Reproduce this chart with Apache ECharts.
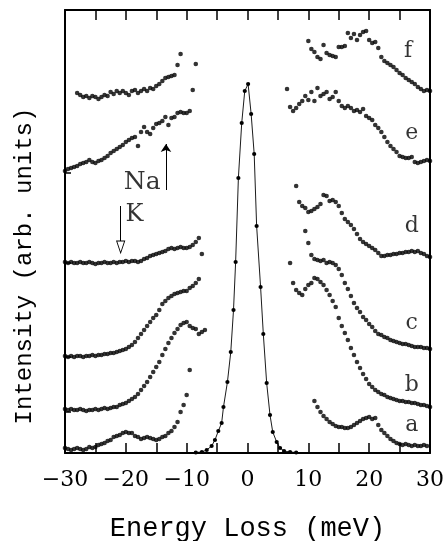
<!DOCTYPE html>
<html>
<head>
<meta charset="utf-8">
<script src="https://cdn.jsdelivr.net/npm/echarts@6/dist/echarts.min.js"></script>
<style>html,body{margin:0;padding:0;background:#fff}#c{width:445px;height:541px}</style>
</head>
<body>
<div id="c"></div>
<script>
// ---- data (energy grid step in meV, intensities in arbitrary units) ----
const STEP = 0.5;
const xTickValues = [-30, -20, -10, 0, 10, 20, 30];
const xTickLabels = ['\u221230', '\u221220', '\u221210', '0', '10', '20', '30'];

const fLeftStart = -28;
const fLeft = [360,358,356,357,355,357,356,354,356,358,357,361,359,362,360,362,360,358,362,363,
  360,362,364,362,365,364,367,369,372,375,376,377,378,388,399,null,null,null,null,389];
const fRightStart = 10;
const fRight = [412,404,401,396,394,408,400,398,397,396,406,406,407,420,415,419,413,418,421,422,
  413,410,411,405,396,392,390,388,386,383,380,378,375,373,371,369,366,364,362,363,362];

const eLeftStart = -30;
const eLeft = [282,284,285,286,287,289,290,291,293,291,290,292,293,295,297,300,302,304,306,308,
  311,313,315,316,307,321,326,321,319,325,329,330,332,336,328,335,336,340,341,340,340,342,363];
const eRightStart = 6.5;
const eRight = [364,346,342,345,349,352,357,353,361,352,365,357,359,361,354,356,361,352,347,345,
  347,345,342,343,341,344,337,335,333,328,325,321,316,311,307,304,301,297,296,295,
  295,296,291,290,291,292,293,292];

const dLeftStart = -30;
const dLeft = [191,190,191,190,190,191,190,190,191,190,189,190,190,191,190,190,191,190,191,191,
  192,191,192,192,191,192,194,195,197,198,199,200,201,202,204,205,204,205,206,205,
  205,206,208,211,215,199];
const dRightStart = 8;
const dRight = [267,251,247,245,241,242,244,246,249,258,257,252,253,251,247,240,234,231,228,224,
  219,214,211,209,207,205,203,200,197,197,198,198,199,199,200,200,201,201,202,201,
  202,200,199,197,196];

const cLeftStart = -30;
const cLeft = [97,96,97,96,97,97,96,97,97,98,97,98,98,99,99,100,100,101,102,103,
  104,106,108,111,115,119,123,127,131,135,138,143,149,152,155,157,159,160,161,162,
  162,165,167,170,174];
const cRightStart = 7;
const cRight = [190,null,null,null,null,222,210,198,194,193,192,193,190,191,190,188,184,178,170,164,
  157,150,145,141,136,133,129,126,122,119,118,116,115,113,112,111,110,109,109,108,
  107,106,106,106,105,105,104];

const bLeftStart = -30;
const bLeft = [44,43,44,43,43,44,43,42,43,43,44,43,44,45,44,45,46,46,48,49,
  50,52,54,56,59,63,67,71,76,81,86,91,98,104,110,115,120,124,128,130,
  131,127,125,124,119,121,123];
const bRightStart = 7.5;
const bRight = [170,163,160,158,164,168,170,175,174,171,168,163,158,152,146,135,127,120,113,105,
  98,91,85,79,74,69,66,63,61,59,58,56,55,54,53,52,52,51,51,50,50,49,48,48,47,46];

const aLeftStart = -30;
const aLeft = [5,4,3,4,5,4,3,4,6,5,6,8,9,10,12,13,16,17,18,20,
  21,20,20,17,16,14,15,16,15,14,13,14,16,17,20,22,26,31,41,48,58,83];
const aRightStart = 11;
const aRight = [52,46,41,37,34,31,29,27,26,26,25,25,26,28,30,32,34,35,36,34,
  35,28,23,20,17,14,12,10,9,8,9,8,7,8,7,7,8,7];

const peakEnergy = [-8.5,-7.5,-6.7,-5.9,-5.35,-4.8,-4.25,-3.95,-3.3,-2.75,-2.3,-1.95,-1.5,-0.95,-0.45,0.1,
  0.6,1.1,1.5,2.15,2.6,3.15,3.7,4.15,4.8,5.35,6.0,7.0,8.0];
const peakIntensity = [0.5,1,3,7,13,22,30,46,71,101,143,191,275,330,362,369,
  339,299,227,166,119,70,38,21,11,5,2,1,0.5];

const traceLetters = ['a','b','c','d','e','f'];
const leftTickLevels = [280, 190, 96, 41];

// ---- build ----
function onGrid(start, values) {
  const out = [];
  values.forEach((v, i) => { if (v !== null) out.push([start + i * STEP, v]); });
  return out;
}
const INK = '#000';
const dotSeries = [
  [fLeftStart, fLeft], [fRightStart, fRight],
  [eLeftStart, eLeft], [eRightStart, eRight],
  [dLeftStart, dLeft], [dRightStart, dRight],
  [cLeftStart, cLeft], [cRightStart, cRight],
  [bLeftStart, bLeft], [bRightStart, bRight],
  [aLeftStart, aLeft], [aRightStart, aRight]
].map(([s, v]) => ({
  type: 'scatter', data: onGrid(s, v), symbol: 'circle', symbolSize: 4.6,
  itemStyle: { color: INK }, silent: true, animation: false
}));

const serif = '"DejaVu Serif", serif';
const mono = '"Liberation Mono", monospace';

const letterPos = { a: [27, 28], b: [27, 68], c: [27, 130], d: [27, 227], e: [27, 320], f: [26.4, 402] };

const annotations = {
  type: 'scatter', symbolSize: 0, silent: true, animation: false,
  data: traceLetters.map(t => ({ value: letterPos[t], label: { show: true, formatter: t } }))
    .concat([
      { value: [-17.3, 271], label: { show: true, formatter: 'Na', fontSize: 25 } },
      { value: [-18.6, 238], label: { show: true, formatter: 'K', fontSize: 24 } }
    ]),
  label: { position: 'inside', color: INK, fontFamily: serif, fontSize: 22, align: 'center', verticalAlign: 'middle' },
  markLine: {
    silent: true, animation: false, symbol: ['none', 'arrow'], symbolSize: 8,
    lineStyle: { color: INK, width: 1, type: 'solid' }, label: { show: false },
    data: [
      [{ coord: [-13.4, 263] }, { coord: [-13.4, 309] }],
      [{ coord: [-20.85, 247], symbol: 'none' }, { coord: [-20.85, 212], symbol: 'none' }]
    ]
  },
  markPoint: {
    silent: true, animation: false,
    data: [{ coord: [-20.85, 206], symbol: 'triangle', symbolRotate: 180, symbolSize: [8, 12],
      itemStyle: { color: '#fff', borderColor: INK, borderWidth: 1 }, label: { show: false } }]
  }
};

const peakSeries = {
  type: 'line', data: peakEnergy.map((x, i) => [x, peakIntensity[i]]),
  symbol: 'circle', symbolSize: 4.2, showSymbol: true, showAllSymbol: true,
  itemStyle: { color: INK }, lineStyle: { color: INK, width: 0.9 }, silent: true, animation: false
};

const chart = echarts.init(document.getElementById('c'), null, { renderer: 'canvas' });
const axisLine = { show: true, onZero: false, lineStyle: { color: INK, width: 2 } };
chart.setOption({
  animation: false,
  backgroundColor: '#fff',
  grid: { left: 65, right: 15, top: 10, bottom: 88, containLabel: false, outerBoundsMode: 'none' },
  xAxis: [{
    type: 'value', min: -30, max: 30, interval: 5, position: 'bottom',
    axisLine,
    axisTick: { show: true, inside: true, length: 10, lineStyle: { color: INK, width: 1.5 } },
    axisLabel: { show: true, margin: 16, color: INK, fontFamily: serif, fontSize: 22,
      formatter: v => { const k = xTickValues.indexOf(v); return k >= 0 ? xTickLabels[k] : ''; } },
    splitLine: { show: false },
    name: 'Energy Loss (meV)', nameLocation: 'middle', nameGap: 62,
    nameTextStyle: { color: INK, fontFamily: mono, fontSize: 27 }
  }, {
    type: 'value', min: -30, max: 30, interval: 5, position: 'top',
    axisLine,
    axisTick: { show: true, inside: true, length: 10, lineStyle: { color: INK, width: 1.5 } },
    axisLabel: { show: false }, splitLine: { show: false }
  }],
  yAxis: [{
    type: 'value', min: 0, max: 443, position: 'left',
    axisLine,
    axisTick: { show: true, inside: true, length: 6, customValues: leftTickLevels, lineStyle: { color: INK, width: 1.5 } },
    axisLabel: { show: false }, splitLine: { show: false }
  }, {
    type: 'value', min: 0, max: 443, position: 'right',
    axisLine, axisTick: { show: false }, axisLabel: { show: false }, splitLine: { show: false }
  }],
  graphic: [{
    type: 'text', x: 25, y: 266, rotation: Math.PI / 2, silent: true,
    style: { text: 'Intensity (arb. units)', font: '24px "Liberation Mono"', fill: INK,
      textAlign: 'center', textVerticalAlign: 'middle' }
  }],
  series: dotSeries.concat([peakSeries, annotations])
});
</script>
</body>
</html>
